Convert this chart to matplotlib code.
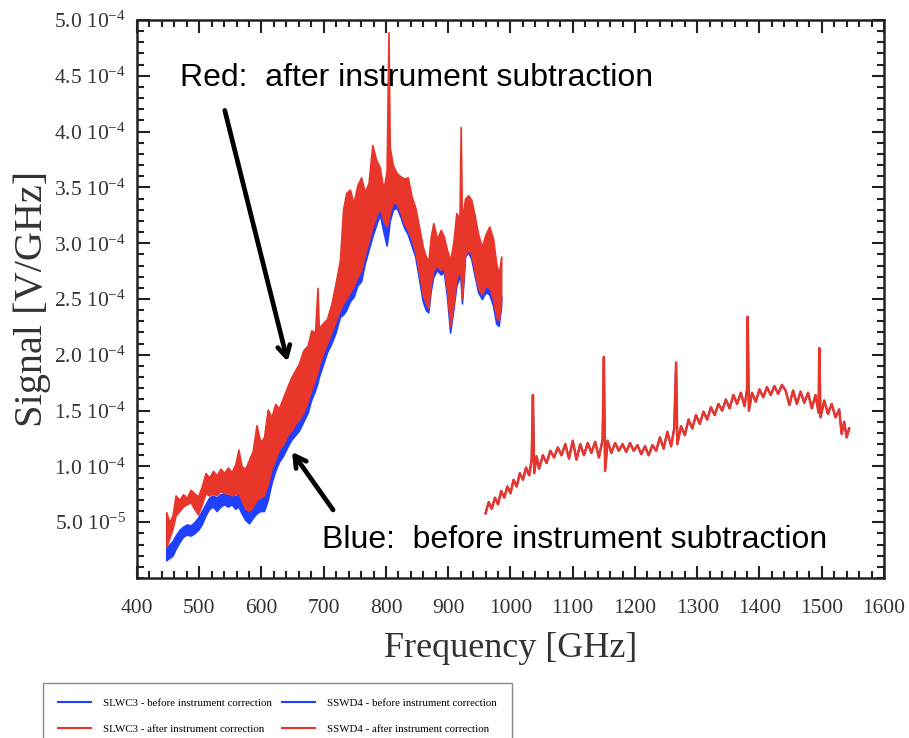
import numpy as np
import matplotlib.pyplot as plt
from matplotlib.lines import Line2D

plt.rcParams['font.family'] = ['Liberation Serif', 'DejaVu Serif']
plt.rcParams['mathtext.fontset'] = 'custom'
plt.rcParams['mathtext.rm'] = 'Liberation Serif'
plt.rcParams['mathtext.it'] = 'Liberation Serif:italic'

RED = '#e8362b'
BLUE = '#2040ff'

# SLWC3 band (signal in units of 1e-5 V/GHz)
slw_freq = [447, 452, 457, 462, 468, 474, 480, 486, 492, 498, 504, 510, 516, 522,
            528, 534, 540, 546, 552, 558, 563, 568, 574, 580, 586, 592, 598, 604,
            610, 616, 622, 628, 635, 642, 648, 654, 660, 667, 674, 680, 686, 690,
            692, 698, 705, 712, 719, 726, 731, 736, 742, 748, 754, 760, 766, 772,
            778, 784, 790, 796, 801, 804, 806, 811, 817, 823, 829, 835, 841, 847,
            853, 859, 864, 868, 872, 876, 882, 888, 893, 898, 903, 908, 913, 918,
            920, 922, 927, 932, 937, 942, 948, 954, 960, 966, 972, 977, 981, 985]
slw_after_hi = [5.9, 5.0, 5.6, 7.4, 7.0, 7.5, 7.2, 7.9, 7.6, 7.3, 8.2, 9.4, 9.0, 9.6,
                9.2, 9.8, 9.4, 9.9, 9.5, 10.2, 11.5, 10.0, 9.8, 10.6, 11.4, 13.7, 12.2, 12.6,
                15.1, 14.4, 15.6, 15.2, 16.2, 17.2, 18.0, 18.6, 19.2, 20.4, 20.8, 22.2, 22.0, 26.0,
                22.4, 22.8, 23.2, 24.5, 26.4, 28.5, 33.0, 34.5, 34.8, 33.6, 35.2, 35.9, 34.6, 35.4,
                38.8, 37.5, 36.8, 34.8, 36.5, 48.9, 38.6, 37.0, 36.3, 36.0, 35.8, 35.9, 34.2, 33.2,
                31.5, 29.7, 28.8, 28.4, 30.6, 31.8, 30.4, 31.2, 30.6, 29.4, 28.5, 30.0, 32.7, 32.2,
                40.4, 32.0, 34.0, 34.3, 33.9, 32.6, 30.8, 29.7, 30.8, 31.5, 30.4, 28.2, 27.2, 28.8]
slw_after_lo = [2.8, 3.6, 4.4, 5.6, 6.0, 6.4, 6.6, 6.8, 6.2, 5.7, 6.6, 7.6, 7.4, 7.6,
                7.4, 7.8, 7.6, 7.6, 7.4, 7.5, 7.6, 7.0, 6.2, 6.0, 6.4, 7.0, 7.2, 7.4,
                8.4, 9.8, 10.6, 11.5, 12.0, 12.8, 13.2, 13.8, 14.2, 14.8, 15.8, 16.9, 17.8, 18.5,
                19.0, 20.0, 21.0, 22.0, 23.0, 24.0, 24.6, 25.0, 25.6, 26.2, 27.0, 27.6, 29.0, 30.2,
                31.4, 32.4, 33.2, 32.0, 31.5, 32.0, 32.8, 33.6, 33.6, 32.8, 31.8, 31.2, 30.4, 29.2,
                27.4, 25.4, 24.6, 24.2, 26.4, 27.6, 28.0, 27.6, 27.8, 25.8, 22.6, 24.4, 26.8, 27.6,
                27.0, 25.0, 29.0, 29.4, 29.0, 27.6, 26.0, 25.4, 26.2, 26.0, 25.0, 23.4, 23.1, 25.0]
slw_before_hi = [2.7, 3.0, 3.3, 3.8, 4.3, 4.6, 4.8, 4.7, 5.0, 5.4, 6.0, 6.6, 7.2, 7.4,
                 7.2, 7.5, 7.6, 7.4, 7.6, 7.3, 7.5, 7.0, 6.2, 6.0, 6.4, 7.0, 7.2, 7.3,
                 8.5, 9.8, 10.6, 11.4, 12.0, 12.8, 13.4, 13.8, 14.2, 15.0, 15.8, 17.0, 18.0, 18.5,
                 19.0, 20.2, 21.4, 22.0, 23.2, 24.5, 24.8, 25.2, 25.8, 26.4, 27.4, 28.0, 29.4, 30.8,
                 32.0, 33.0, 33.8, 33.0, 32.4, 33.0, 33.8, 34.4, 34.4, 33.6, 32.6, 32.0, 31.0, 30.2,
                 28.0, 26.0, 25.0, 24.5, 26.8, 28.0, 28.6, 28.2, 28.4, 26.4, 23.4, 25.0, 27.4, 28.0,
                 27.6, 25.6, 29.6, 30.2, 29.6, 28.2, 26.6, 26.0, 26.6, 26.4, 25.4, 23.8, 23.6, 25.2]
slw_before_lo = [1.6, 1.8, 2.0, 2.6, 3.2, 3.7, 3.9, 3.8, 4.0, 4.3, 4.8, 5.6, 6.2, 6.4,
                 6.0, 6.4, 6.6, 6.4, 6.6, 6.2, 6.4, 5.8, 5.2, 4.9, 5.4, 5.8, 6.0, 6.0,
                 7.0, 8.5, 9.6, 10.4, 11.0, 11.8, 12.4, 12.8, 13.2, 14.0, 14.8, 16.0, 16.8, 17.5,
                 18.0, 19.0, 20.2, 21.0, 22.0, 23.4, 23.6, 24.0, 24.8, 25.2, 26.2, 26.6, 28.2, 29.4,
                 30.6, 31.6, 32.6, 31.0, 29.8, 31.0, 32.0, 33.0, 33.2, 32.4, 31.4, 30.8, 29.8, 28.8,
                 26.8, 24.8, 24.0, 23.8, 25.8, 27.0, 27.6, 27.2, 27.4, 25.2, 22.0, 24.0, 26.2, 27.0,
                 26.6, 24.6, 28.8, 29.2, 28.6, 27.2, 25.6, 25.0, 25.6, 25.4, 24.4, 22.8, 22.6, 24.4]

# SSWD4 trace (signal in units of 1e-5 V/GHz)
ssw_freq = [960, 965, 970, 975, 980, 985, 990, 995, 1000, 1005, 1010, 1015, 1020, 1025,
            1030, 1034, 1036, 1038, 1042, 1046, 1052, 1058, 1064, 1070, 1076, 1082, 1088,
            1094, 1100, 1106, 1112, 1118, 1124, 1130, 1136, 1142, 1148, 1150, 1152, 1156,
            1162, 1168, 1174, 1180, 1186, 1192, 1198, 1204, 1210, 1216, 1222, 1228, 1234,
            1240, 1246, 1252, 1258, 1263, 1266, 1268, 1274, 1280, 1286, 1292, 1298, 1304,
            1310, 1316, 1322, 1328, 1334, 1340, 1346, 1352, 1358, 1364, 1370, 1376, 1380,
            1381, 1383, 1388, 1394, 1400, 1406, 1412, 1418, 1424, 1430, 1436, 1442, 1448,
            1454, 1460, 1466, 1472, 1478, 1484, 1490, 1495, 1496, 1498, 1504, 1510, 1516,
            1522, 1528, 1532, 1536, 1540, 1544]
ssw_after = [5.8, 6.8, 6.2, 7.2, 6.6, 7.8, 7.2, 8.2, 7.6, 8.8, 8.2, 9.4, 8.8, 9.9,
             9.2, 10.6, 16.4, 9.4, 10.9, 9.8, 11.0, 10.3, 11.4, 10.8, 11.7, 11.0, 12.0,
             10.7, 12.3, 10.6, 12.0, 11.0, 12.1, 11.2, 12.2, 10.8, 12.4, 19.8, 9.6, 12.3,
             11.2, 12.1, 11.4, 12.0, 11.3, 12.1, 11.4, 11.9, 11.1, 11.8, 11.0, 11.9, 11.4,
             12.6, 11.6, 13.1, 11.8, 13.4, 19.3, 12.0, 13.6, 12.8, 14.2, 13.4, 14.6, 13.8,
             14.9, 14.2, 15.3, 14.6, 15.6, 15.0, 16.0, 15.2, 16.4, 15.6, 16.6, 15.4, 16.9,
             23.4, 15.0, 16.6, 15.8, 16.9, 16.2, 17.1, 16.4, 17.2, 16.5, 17.3, 16.8, 15.5,
             16.8, 15.6, 16.7, 15.7, 16.6, 15.2, 16.4, 14.8, 20.6, 14.4, 15.9, 14.7, 15.6,
             14.4, 15.1, 12.9, 14.0, 12.6, 13.4]
ssw_before = ssw_after  # before/after identical at this scale

x_ticks = [400, 500, 600, 700, 800, 900, 1000, 1100, 1200, 1300, 1400, 1500, 1600]
y_ticks = [5e-5, 1e-4, 1.5e-4, 2e-4, 2.5e-4, 3e-4, 3.5e-4, 4e-4, 4.5e-4, 5e-4]
y_labels = [r'5.0 10$^{-5}$', r'1.0 10$^{-4}$', r'1.5 10$^{-4}$', r'2.0 10$^{-4}$',
            r'2.5 10$^{-4}$', r'3.0 10$^{-4}$', r'3.5 10$^{-4}$', r'4.0 10$^{-4}$',
            r'4.5 10$^{-4}$', r'5.0 10$^{-4}$']

sc = 1e-5
fig = plt.figure(figsize=(9.09, 7.38), dpi=100)
ax = fig.add_axes([137 / 909, 1 - 578 / 738, (884 - 137) / 909, (578 - 20) / 738])

f = np.array(slw_freq)
ax.fill_between(f, np.array(slw_before_lo) * sc, np.array(slw_before_hi) * sc,
                color=BLUE, lw=1.2, zorder=2)
ax.fill_between(f, np.array(slw_after_lo) * sc, np.array(slw_after_hi) * sc,
                color=RED, lw=1.2, zorder=3)
ax.plot(ssw_freq, np.array(ssw_before) * sc, color=BLUE, lw=1.4, zorder=2)
ax.plot(ssw_freq, np.array(ssw_after) * sc, color=RED, lw=1.8, zorder=3)

ax.set_xlim(400, 1600)
ax.set_ylim(0, 5e-4)
ax.set_xticks(x_ticks)
ax.set_xticks(np.arange(400, 1601, 20), minor=True)
ax.set_yticks(y_ticks)
ax.set_yticklabels(y_labels)
ax.set_yticks(np.arange(0, 5.01e-4, 1e-5), minor=True)
ax.tick_params(which='both', direction='in', top=True, right=True, width=1.5,
               labelsize=15.5, colors='#222222', labelcolor='#333333')
ax.tick_params(which='major', length=9)
ax.tick_params(which='minor', length=5)
ax.tick_params(axis='x', which='major', pad=15)
ax.tick_params(axis='y', which='major', pad=8)
for s in ax.spines.values():
    s.set_linewidth(1.8)
    s.set_color('#222222')

ax.set_xlabel('Frequency [GHz]', fontsize=26, color='#333333', labelpad=10)
ax.set_ylabel('Signal [V/GHz]', fontsize=29, color='#333333', labelpad=2)

# annotations
sans = ['Liberation Sans', 'DejaVu Sans']
ax.text(469, 44.8e-5, 'Red:  after instrument subtraction', family=sans,
        fontsize=23, va='center', ha='left', color='black')
ax.text(697, 3.4e-5, 'Blue:  before instrument subtraction', family=sans,
        fontsize=23, va='center', ha='left', color='black')
ax.annotate('', xy=(642, 19.4e-5), xytext=(541, 41.9e-5),
            arrowprops=dict(arrowstyle='->,head_length=0.8,head_width=0.45',
                            lw=3.4, color='black', shrinkA=0, shrinkB=0))
ax.annotate('', xy=(649, 11.3e-5), xytext=(715, 6.1e-5),
            arrowprops=dict(arrowstyle='->,head_length=0.8,head_width=0.45',
                            lw=3.4, color='black', shrinkA=0, shrinkB=0))

handles = [Line2D([], [], color=BLUE, lw=1.5), Line2D([], [], color=RED, lw=1.5),
           Line2D([], [], color=BLUE, lw=1.5), Line2D([], [], color=RED, lw=1.5)]
labels = ['SLWC3 - before instrument correction', 'SLWC3 - after instrument correction',
          'SSWD4 - before instrument correction', 'SSWD4 - after instrument correction']
fig.legend(handles, labels, ncol=2, loc='upper left',
           bbox_to_anchor=(43 / 909, 1 - 683 / 738), borderaxespad=0, fontsize=7.8,
           fancybox=False, edgecolor='#888888', framealpha=1, handlelength=3.0,
           handletextpad=1.1, columnspacing=1.0, borderpad=1.4, labelspacing=1.5)

fig.savefig('out.png', dpi=100)
